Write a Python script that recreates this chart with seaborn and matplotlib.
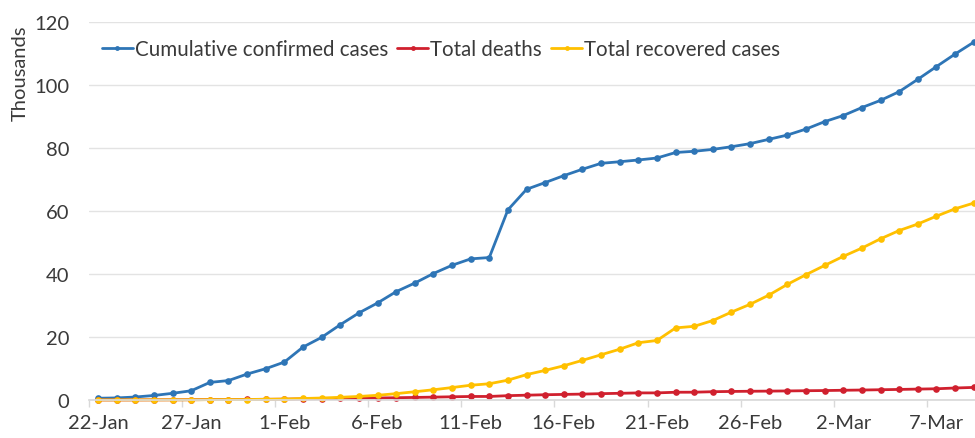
import numpy as np
import pandas as pd
import matplotlib
matplotlib.use("Agg")
import matplotlib.pyplot as plt
import seaborn as sns
from matplotlib.ticker import MultipleLocator, FixedLocator

# ---- data (thousands), daily from 22-Jan to 9-Mar ----
day = list(range(48))
confirmed = [0.555, 0.654, 0.941, 1.434, 2.118, 2.927, 5.578, 6.166, 8.234, 9.927,
             12.038, 16.787, 19.881, 23.892, 27.635, 30.794, 34.391, 37.120, 40.150, 42.762,
             44.802, 45.221, 60.368, 66.885, 69.030, 71.224, 73.258, 75.136, 75.639, 76.197,
             76.819, 78.572, 78.958, 79.561, 80.406, 81.388, 82.746, 84.112, 86.011, 88.369,
             90.306, 92.840, 95.120, 97.886, 101.801, 105.847, 109.821, 113.590]
deaths = [0.017, 0.018, 0.026, 0.042, 0.056, 0.082, 0.131, 0.133, 0.171, 0.213,
          0.259, 0.362, 0.426, 0.492, 0.564, 0.634, 0.719, 0.806, 0.906, 1.013,
          1.113, 1.118, 1.371, 1.523, 1.666, 1.770, 1.868, 2.007, 2.122, 2.247,
          2.251, 2.458, 2.469, 2.629, 2.708, 2.770, 2.814, 2.872, 2.941, 2.996,
          3.085, 3.160, 3.254, 3.348, 3.460, 3.558, 3.802, 3.988]
recovered = [0.028, 0.030, 0.036, 0.039, 0.052, 0.061, 0.107, 0.126, 0.143, 0.222,
             0.284, 0.472, 0.623, 0.852, 1.124, 1.487, 2.011, 2.616, 3.244, 3.946,
             4.683, 5.150, 6.295, 8.058, 9.395, 10.865, 12.583, 14.352, 16.121, 18.177,
             18.890, 22.886, 23.394, 25.227, 27.905, 30.384, 33.277, 36.711, 39.782, 42.716,
             45.602, 48.228, 51.170, 53.796, 55.865, 58.358, 60.695, 62.512]
tick_days = [0, 5, 10, 15, 20, 25, 30, 35, 40, 45]
tick_labels = ["22-Jan", "27-Jan", "1-Feb", "6-Feb", "11-Feb", "16-Feb",
               "21-Feb", "26-Feb", "2-Mar", "7-Mar"]

names = ["Cumulative confirmed cases", "Total deaths", "Total recovered cases"]
colors = ["#2E75B6", "#D0202E", "#FFC000"]

df = pd.DataFrame({"day": day * 3,
                   "value": confirmed + deaths + recovered,
                   "series": [names[0]] * 48 + [names[1]] * 48 + [names[2]] * 48})

sns.set_theme(style="white")
plt.rcParams["font.family"] = ["Lato", "DejaVu Sans"]
text_col = "#3A3A3A"

fig = plt.figure(figsize=(9.75, 4.39), dpi=100)
ax = fig.add_axes([0.091, 0.0866, 0.909, 0.861])

sns.lineplot(data=df, x="day", y="value", hue="series", hue_order=names,
             palette=colors, marker="o", markersize=4.8, markeredgewidth=0,
             linewidth=2, ax=ax, clip_on=False)

ax.set_xlim(-0.5, 47.07)
ax.set_ylim(0, 120)
ax.yaxis.set_major_locator(MultipleLocator(20))
ax.grid(axis="y", color="#E3E3E3", linewidth=1)
ax.set_axisbelow(True)
for s in ["top", "right", "left"]:
    ax.spines[s].set_visible(False)
ax.spines["bottom"].set_color("#D9D9D9")

ax.set_xticks(tick_days)
ax.set_xticklabels(tick_labels)
ax.xaxis.set_minor_locator(FixedLocator([d - 0.5 for d in tick_days]))
ax.tick_params(axis="x", which="major", length=0, pad=10, labelsize=14.5, labelcolor=text_col)
ax.tick_params(axis="x", which="minor", length=5, color="#D9D9D9", width=1, bottom=True)
ax.tick_params(axis="y", length=0, pad=14, labelsize=14.5, labelcolor=text_col)
ax.set_xlabel("")
ax.set_ylabel("")

fig.text(20 / 975, 1 - 73 / 439, "Thousands", rotation=90, ha="center", va="center",
         fontsize=14.5, color=text_col)

leg = ax.legend(loc="center left", bbox_to_anchor=(102 / 975, 1 - 50 / 439),
                bbox_transform=fig.transFigure, ncol=3, frameon=False,
                handlelength=1.5, handletextpad=0.1, columnspacing=0.45,
                fontsize=14.8, borderpad=0, borderaxespad=0)
for t in leg.get_texts():
    t.set_color(text_col)
for h in leg.legend_handles:
    h.set_markersize(3.5)

fig.savefig("out.png", dpi=100)
